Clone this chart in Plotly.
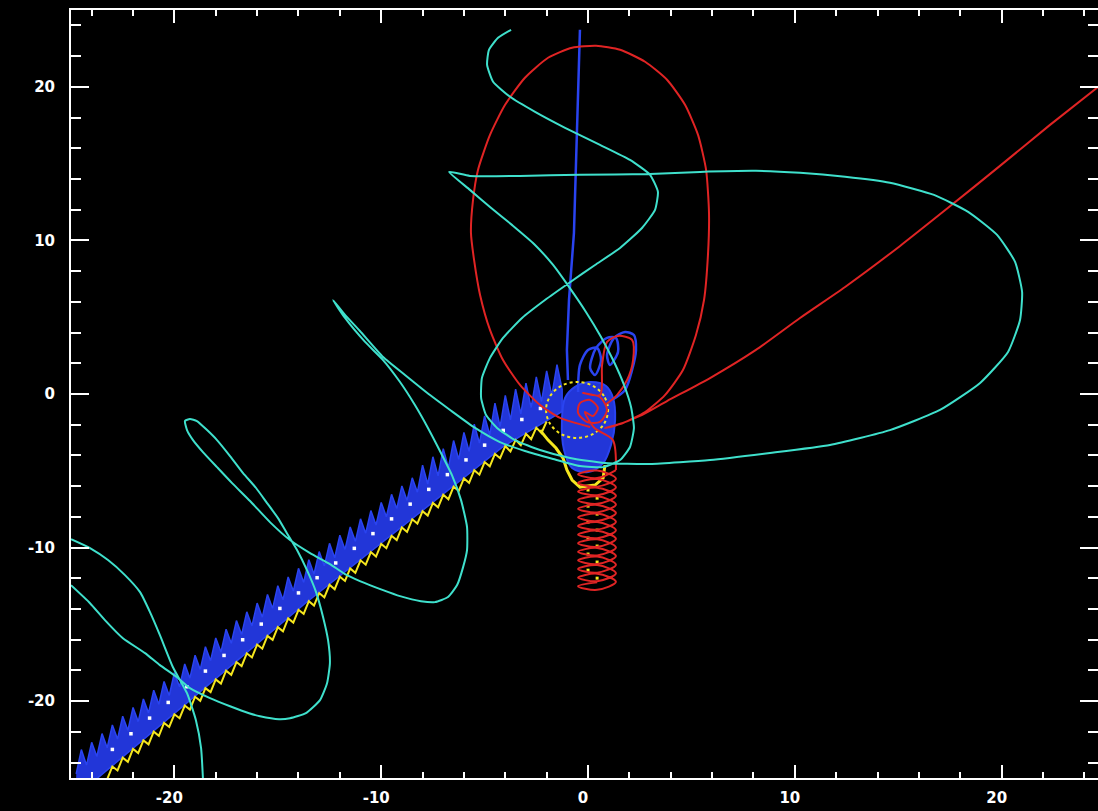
import plotly.graph_objects as go

# ---------------- data (data units) ----------------
x_ticks = [-20, -10, 0, 10, 20]
x_tick_text = ["-20", "-10", "0", "10", "20"]
y_ticks = [-20, -10, 0, 10, 20]
y_tick_text = ["-20", "-10", "0", "10", "20"]

cyan_x = [-3.72, -4.35, -4.79, -4.88, -4.59, -3.77, -2.56, -1.11, 0.58, 2.03, 3.00, 3.38, 3.24, 2.61, 1.55, 0.34,
          -0.92, -2.08, -3.19, -4.11, -4.74, -5.13, -5.17, -4.93, -4.40, -3.53, -2.32, -0.87, 0.82, 3.00, 5.90, 8.80,
          11.70, 14.60, 17.02, 18.96, 20.31, 20.89, 20.99, 20.65, 19.78, 18.38, 16.73, 14.60, 12.43, 10.25, 8.12, 5.42,
          3.00, -0.39, -3.29, -5.71, -6.72,
          -5.71, -4.74, -3.68, -2.61, -1.69, -0.92, -0.10, 0.63, 1.26, 1.74, 2.08, 2.22, 2.03, 1.55, 0.73, -0.39,
          -1.69, -3.05, -4.26, -5.46, -6.67, -7.64, -8.85, -9.91, -11.03, -11.75, -12.33,
          -11.75, -10.78, -9.91, -9.09, -8.37, -7.74, -7.11, -6.58, -6.14, -5.85, -5.85, -6.04, -6.33, -6.77, -7.40,
          -8.08, -9.09, -9.91, -11.03, -11.75, -12.48, -13.44, -14.41, -15.38, -16.34, -17.21, -17.94, -18.62, -19.10,
          -19.39, -19.49, -19.25, -18.91, -18.42, -17.94, -17.31, -16.68, -16.05, -15.52, -14.99, -14.56, -14.07,
          -13.59, -13.15, -12.81, -12.57, -12.48, -12.62, -12.96, -13.64, -14.41, -14.94, -15.86, -16.39, -17.31,
          -18.28, -19.25, -19.87, -20.70, -21.42, -22.49, -23.36, -24.08, -25.00,
          None,
          -25.00, -24.08, -23.21, -22.39, -21.66, -21.18, -20.70, -20.07, -19.39, -18.96, -18.71, -18.62]
cyan_y = [23.71, 23.19, 22.41, 21.43, 20.33, 19.35, 18.37, 17.33, 16.22, 15.24, 14.27, 13.16, 11.99, 10.81, 9.51, 8.40,
          7.23, 6.12, 4.95, 3.65, 2.35, 1.04, -0.26, -1.37, -2.21, -3.00, -3.65, -4.17, -4.50, -4.56, -4.30, -3.84,
          -3.32, -2.35, -1.04, 0.72, 2.74, 4.82, 6.64, 8.60, 10.36, 11.86, 12.96, 13.75, 14.14, 14.40, 14.53, 14.46,
          14.33, 14.27, 14.20, 14.20, 14.46,
          13.29, 12.18, 11.01, 9.77, 8.40, 6.97, 5.34, 3.71, 2.08, 0.59, -0.85, -2.21, -3.45, -4.30, -4.76, -4.69,
          -4.23, -3.71, -3.13, -2.21, -1.04, -0.07, 1.24, 2.41, 4.10, 5.15, 6.12,
          4.95, 3.39, 2.21, 0.78, -0.72, -2.21, -3.84, -5.28, -6.91, -8.66, -10.16, -11.27, -12.44, -13.22, -13.55,
          -13.49, -13.16, -12.77, -12.18, -11.73, -11.07, -10.36, -9.51, -8.34, -6.97, -5.80, -4.76, -3.78, -3.00,
          -2.35, -1.76, -1.63, -1.76, -2.35, -3.00, -4.04, -5.15, -6.12, -7.10, -8.08, -9.06, -10.16,
          -11.47, -12.90, -14.53, -16.03, -17.52, -18.83, -19.93, -20.78, -21.11, -21.17, -20.98, -20.78, -20.33,
          -19.80, -19.15, -18.44, -17.65, -16.87, -15.90, -14.72, -13.62, -12.45,
          None,
          -9.45, -10.03, -10.81, -11.79, -12.90, -14.20, -15.70, -17.79, -19.48, -21.24, -23.06, -25.02]

red_orbit_x = [0.10, -1.35, -2.32, -3.29, -4.11, -4.74, -5.22, -5.51, -5.66, -5.56, -5.32, -4.74, -4.01, -3.05, -1.93,
               -0.77, 0.39, 1.55, 2.76, 3.82, 4.69, 5.32, 5.71, 5.85, 5.80, 5.61, 5.22, 4.59, 3.72, 2.76, 1.69, 0.82,
               1.26, 2.51, 3.82, 5.90, 8.12, 10.25, 12.43, 15.09, 17.41, 19.92, 22.34, 24.70]
red_orbit_y = [-2.15, -1.56, -0.72, 0.59, 2.21, 4.17, 6.45, 8.73, 10.49, 12.64, 14.59, 16.87, 18.83, 20.59, 21.89,
               22.54, 22.67, 22.41, 21.63, 20.46, 18.83, 16.87, 14.59, 11.79, 9.06, 6.12, 3.84, 1.56, -0.07, -1.17,
               -1.89, -2.21, -2.08, -1.43, -0.46, 1.04, 2.87, 4.95, 6.97, 9.64, 12.12, 14.85, 17.52, 20.03]

red_loops_x = [0.82, 1.40, 1.89, 2.18, 2.13, 1.45, 0.92, 0.68, 0.58, -0.24, 0.58, 0.92, 0.58, -0.05, -0.48, -0.39,
               0.10, 0.48, 0.24, -0.15, 0.30, 1.20, 1.35]
red_loops_y = [-0.72, -0.07, 0.91, 2.21, 3.52, 3.78, 3.39, 1.89, -0.07, 0.07, -0.20, -1.04, -1.82, -1.82, -1.24,
               -0.59, -0.39, -0.91, -1.43, -1.17, -2.20, -3.00, -4.95]

red_coil_x = [1.35, 0.44, -0.48, 0.44, 1.35, 0.44, -0.48, 0.44, 1.35, 0.44, -0.48, 0.44,
              1.35, 0.44, -0.48, 0.44, 1.35, 0.44, -0.48, 0.44, 1.35, 0.44, -0.48, 0.44,
              1.35, 0.44, -0.48, 0.44, 1.35, 0.44, -0.48, 0.44, 1.35, 0.44, -0.48, 0.44,
              1.35, 0.44, -0.48, 0.44, 1.35, 0.44, -0.48, 0.44, 1.35, 0.44, -0.48, 0.44,
              1.35, 0.44, -0.48, 0.44, 1.35, 0.44, -0.48, 0.44]
red_coil_y = [-4.95, -5.47, -5.23, -4.98, -5.51, -6.03, -5.79, -5.54, -6.07, -6.59, -6.35, -6.10,
              -6.63, -7.15, -6.91, -6.66, -7.19, -7.71, -7.47, -7.22, -7.75, -8.27, -8.03, -7.78,
              -8.31, -8.83, -8.59, -8.34, -8.87, -9.39, -9.15, -8.90, -9.43, -9.95, -9.71, -9.46,
              -9.99, -10.51, -10.27, -10.02, -10.55, -11.07, -10.83, -10.58, -11.11, -11.63, -11.39, -11.14,
              -11.67, -12.19, -11.95, -11.70, -12.23, -12.75, -12.51, -12.26]

blue_line_x = [-0.39, -0.48, -0.58, -0.68, -0.92, -1.02, -0.97]
blue_line_y = [23.71, 19.15, 14.79, 10.49, 6.12, 2.87, 0.91]

blue_loops_x = [-0.48, -0.39, 0.00, 0.44, 0.63, 0.34, 0.10, 0.39, 0.92, 1.35, 1.45, 1.06, 0.92, 1.26, 1.79, 2.22,
                2.32, 2.13, 1.79, 1.16]
blue_loops_y = [0.13, 1.89, 2.87, 3.00, 2.21, 1.24, 1.69, 3.00, 3.65, 3.65, 2.74, 1.89, 2.54, 3.65, 4.04, 3.84,
                2.87, 1.56, 0.26, -0.39]

blue_blob_x = [-1.26, -1.11, -0.63, 0.10, 0.87, 1.21, 1.31, 1.11, 0.73, 0.00, -0.77, -1.16, -1.26]
blue_blob_y = [-1.69, -0.26, 0.46, 0.78, 0.52, -0.26, -1.69, -3.32, -4.50, -5.08, -4.82, -3.65, -1.69]

band_top_x = [-24.75, -24.5, -24.25, -24.0, -23.75, -23.5,
              -23.25, -23.0, -22.75, -22.5, -22.25, -22.0, -21.75, -21.5, -21.25, -21.0,
              -20.75, -20.5, -20.25, -20.0, -19.75, -19.5, -19.25, -19.0, -18.75, -18.5,
              -18.25, -18.0, -17.75, -17.5, -17.25, -17.0, -16.75, -16.5, -16.25, -16.0,
              -15.75, -15.5, -15.25, -15.0, -14.75, -14.5, -14.25, -14.0, -13.75, -13.5,
              -13.25, -13.0, -12.75, -12.5, -12.25, -12.0, -11.75, -11.5, -11.25, -11.0,
              -10.75, -10.5, -10.25, -10.0, -9.75, -9.5, -9.25, -9.0, -8.75, -8.5,
              -8.25, -8.0, -7.75, -7.5, -7.25, -7.0, -6.75, -6.5, -6.25, -6.0,
              -5.75, -5.5, -5.25, -5.0, -4.75, -4.5, -4.25, -4.0, -3.75, -3.5,
              -3.25, -3.0, -2.75, -2.5, -2.25, -2.0, -1.75, -1.5, -1.25]
band_top_y = [-24.73, -23.15, -24.16, -22.68, -23.60, -22.11,
              -23.03, -21.55, -22.46, -20.98, -21.90, -20.41, -21.33, -19.85, -20.76, -19.28,
              -20.20, -18.71, -19.63, -18.15, -19.06, -17.58, -18.50, -17.01, -17.93, -16.45,
              -17.36, -15.88, -16.80, -15.31, -16.23, -14.75, -15.66, -14.18, -15.10, -13.61,
              -14.53, -13.05, -13.96, -12.48, -13.40, -11.91, -12.83, -11.35, -12.26, -10.79,
              -11.72, -10.26, -11.19, -9.72, -10.66, -9.19, -10.12, -8.66, -9.59, -8.13,
              -9.06, -7.59, -8.53, -7.06, -7.99, -6.53, -7.46, -5.99, -6.93, -5.46,
              -6.39, -4.63, -5.86, -4.09, -5.33, -3.56, -4.80, -3.03, -4.26, -2.50,
              -3.73, -1.96, -3.20, -1.43, -2.66, -0.60, -2.13, -0.09, -1.69, 0.31,
              -1.29, 0.71, -0.89, 1.11, -0.49, 1.51, -0.09, 1.91, 0.31]
band_base_x = [-1.25, -4.11, -13.64, -24.75]
band_base_y = [-1.14, -3.43, -13.59, -26.18]

band_dots_x = [-23.0, -22.1, -21.2, -20.3, -19.4, -18.5, -17.6, -16.7, -15.8, -14.9, -14.0, -13.1, -12.2, -11.3,
               -10.4, -9.5, -8.6, -7.7, -6.8, -5.9, -5.0, -4.1, -3.2, -2.3]
band_dots_y = [-23.14, -22.12, -21.10, -20.08, -19.06, -18.04, -17.02, -16.00, -14.98, -13.96, -12.95, -11.96,
               -11.00, -10.05, -9.09, -8.13, -7.17, -6.21, -5.25, -4.29, -3.33, -2.37, -1.66, -0.94]

yellow_x = band_top_x[6:92]
yellow_y = [-25.08, -24.25, -24.51, -23.68, -23.95, -23.11, -23.38, -22.55, -22.81, -21.98,
            -22.25, -21.41, -21.68, -20.85, -21.11, -20.28, -20.55, -19.71, -19.98, -19.15,
            -19.41, -18.58, -18.85, -18.01, -18.28, -17.45, -17.71, -16.88, -17.15, -16.31,
            -16.58, -15.75, -16.01, -15.18, -15.45, -14.61, -14.88, -14.05, -14.31, -13.49,
            -13.77, -12.96, -13.24, -12.42, -12.71, -11.89, -12.17, -11.36, -11.64, -10.83,
            -11.11, -10.29, -10.58, -9.76, -10.04, -9.23, -9.51, -8.69, -8.98, -8.16,
            -8.44, -7.63, -7.91, -7.09, -7.38, -6.56, -6.85, -6.03, -6.31, -5.50,
            -5.78, -4.96, -5.25, -4.43, -4.71, -3.90, -4.18, -3.39, -3.74, -2.99,
            -3.34, -2.59, -2.94, -2.19, -2.54, -1.79]

yellow_ring_x = [0.97, 0.77, 0.22, -0.53, -1.28, -1.83, -2.03, -1.83, -1.28, -0.53, 0.22, 0.77, 0.97]
yellow_ring_y = [-1.04, -0.13, 0.54, 0.78, 0.54, -0.13, -1.04, -1.95, -2.62, -2.86, -2.62, -1.95, -1.04]

yellow_tail_x = [-2.32, -1.93, -1.55, -1.21, -1.02, -0.77, -0.39, 0.34, 0.73, 0.82]
yellow_tail_y = [-2.35, -3.00, -3.52, -4.17, -4.95, -5.60, -6.06, -5.93, -5.47, -4.63]

yellow_dots_x = [0.00, 0.44, 0.00, 0.44, 0.00, 0.44, 0.00, 0.44, 0.00, 0.44, 0.00, 0.44]
yellow_dots_y = [-6.25, -6.78, -7.30, -7.82, -8.34, -8.86, -9.38, -9.90, -10.42, -10.94, -11.47, -11.99]

# ---------------- colours ----------------
CYAN = "#3fe0cc"
RED = "#e02424"
BLUE = "#2a44f0"
BLUE_FILL = "#2236d8"
YELLOW = "#f5e61e"

fig = go.Figure()

# blue trajectory
fig.add_trace(go.Scatter(x=band_top_x + band_base_x, y=band_top_y + band_base_y, mode="lines",
                         fill="toself", fillcolor=BLUE_FILL, line=dict(color=BLUE, width=1.5)))
fig.add_trace(go.Scatter(x=blue_blob_x, y=blue_blob_y, mode="lines", fill="toself", fillcolor=BLUE_FILL,
                         line=dict(color=BLUE, width=2, shape="spline")))
fig.add_trace(go.Scatter(x=blue_loops_x, y=blue_loops_y, mode="lines",
                         line=dict(color=BLUE, width=2.5, shape="spline", smoothing=0.8)))
fig.add_trace(go.Scatter(x=blue_line_x, y=blue_line_y, mode="lines", line=dict(color=BLUE, width=2.5)))
fig.add_trace(go.Scatter(x=band_dots_x, y=band_dots_y, mode="markers",
                         marker=dict(color="white", size=3.5, symbol="square")))

# yellow trajectory
fig.add_trace(go.Scatter(x=yellow_x, y=yellow_y, mode="lines", line=dict(color=YELLOW, width=2)))
fig.add_trace(go.Scatter(x=yellow_ring_x, y=yellow_ring_y, mode="lines",
                         line=dict(color=YELLOW, width=2, dash="3px,3px", shape="spline")))
fig.add_trace(go.Scatter(x=yellow_tail_x, y=yellow_tail_y, mode="lines", line=dict(color=YELLOW, width=3)))
fig.add_trace(go.Scatter(x=yellow_dots_x, y=yellow_dots_y, mode="markers",
                         marker=dict(color=YELLOW, size=3, symbol="square")))

# red trajectory
fig.add_trace(go.Scatter(x=red_coil_x, y=red_coil_y, mode="lines",
                         line=dict(color=RED, width=2, shape="spline", smoothing=1.0)))
fig.add_trace(go.Scatter(x=red_loops_x, y=red_loops_y, mode="lines",
                         line=dict(color=RED, width=2, shape="spline", smoothing=0.8)))
fig.add_trace(go.Scatter(x=red_orbit_x, y=red_orbit_y, mode="lines",
                         line=dict(color=RED, width=2, shape="spline", smoothing=0.6)))

# cyan trajectory
fig.add_trace(go.Scatter(x=cyan_x, y=cyan_y, mode="lines", connectgaps=False,
                         line=dict(color=CYAN, width=2, shape="spline", smoothing=0.5)))

axis_font = dict(family="DejaVu Sans", size=15, color="white", weight="bold")
common = dict(showgrid=False, zeroline=False, showline=True, linecolor="white", linewidth=2,
              mirror="allticks", ticks="inside", tickcolor="white", tickwidth=1.5,
              tickfont=axis_font, automargin=False, tickmode="array")

fig.update_layout(
    template="none",
    width=1098, height=811,
    paper_bgcolor="black", plot_bgcolor="black",
    margin=dict(l=71, r=0, t=10, b=33, pad=0),
    showlegend=False,
    xaxis=dict(range=[-25, 24.66], tickvals=x_ticks, ticktext=x_tick_text, ticklen=13, ticklabelstandoff=5,
               ticklabelshift=-5,
               minor=dict(ticks="inside", dtick=2, tick0=0, ticklen=6, tickcolor="white", tickwidth=1.5,
                          showgrid=False), **common),
    yaxis=dict(range=[-25, 25], tickvals=y_ticks, ticktext=y_tick_text, ticklen=18, ticklabelstandoff=11,
               minor=dict(ticks="inside", dtick=2, tick0=0, ticklen=10, tickcolor="white", tickwidth=1.5,
                          showgrid=False), **common),
)

fig.write_html(
    "out.html",
    config={"displayModeBar": False},
    post_script="document.body.style.margin='0';document.body.style.background='black';"
                "document.body.style.overflow='hidden';",
)
